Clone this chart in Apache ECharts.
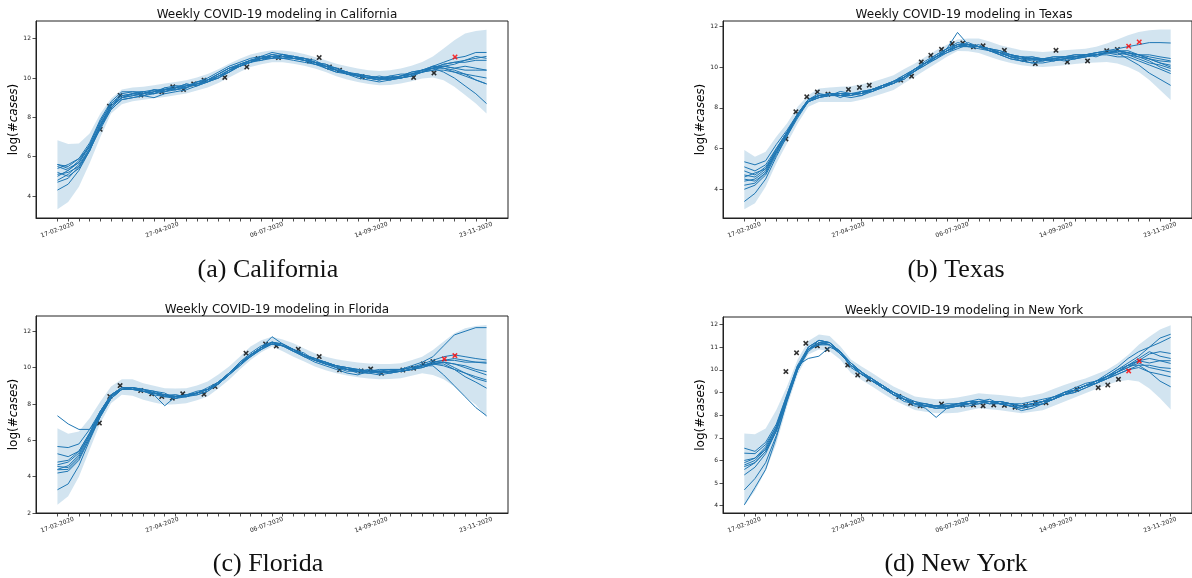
<!DOCTYPE html>
<html>
<head>
<meta charset="utf-8">
<title>Weekly COVID-19 modeling</title>
<script src="https://cdn.jsdelivr.net/npm/echarts@6/dist/echarts.min.js"></script>
<style>
  html, body { margin: 0; padding: 0; background: #fff; }
  #main { width: 1192px; height: 578px; }
</style>
</head>
<body>
<div id="main"></div>
<script>
// x values are weeks counted from 17-02-2020
var weekTicks = [0,1,2,3,4,5,6,7,8,9,10,11,12,13,14,15,16,17,18,19,20,21,22,23,24,25,26,27,28,29,30,31,32,33,34,35,36,37,38,39,40]
var tickLabels = ['17-02-2020', '27-04-2020', '06-07-2020', '14-09-2020', '23-11-2020']
var labelWeeks = [0, 9.75, 19.5, 29.25, 39]

// ---- California ----
var caLower = [3.32,3.7,4.47,5.66,7.0,8.2,8.67,8.82,8.9,8.97,9.04,9.12,9.21,9.36,9.52,9.75,10.02,10.3,10.56,10.7,10.8,10.8,10.73,10.62,10.48,10.3,10.09,9.93,9.8,9.7,9.63,9.65,9.72,9.83,9.97,10.02,9.89,9.55,9.13,8.7,8.2]
var caUpper = [6.84,6.64,6.67,7.18,8.2,8.96,9.41,9.52,9.55,9.63,9.72,9.8,9.89,10.03,10.2,10.45,10.73,10.98,11.19,11.32,11.41,11.4,11.33,11.22,11.07,10.9,10.73,10.6,10.48,10.4,10.36,10.4,10.48,10.62,10.82,11.1,11.5,11.92,12.26,12.39,12.46]
var caRuns = [
  [4.3,4.6,5.3,6.3,7.5,8.5,9.0,9.1,9.2,9.4,9.3,9.5,9.6,9.7,9.9,10.2,10.5,10.7,10.9,11.0,11.2,11.1,11.0,10.9,10.7,10.6,10.4,10.3,10.1,10.0,9.9,10.0,10.1,10.2,10.4,10.5,10.3,10.0,9.6,9.2,8.7],
  [4.7,4.9,5.5,6.4,7.7,8.6,9.1,9.2,9.1,9.3,9.4,9.4,9.5,9.8,9.9,10.0,10.3,10.6,10.8,11.1,11.0,11.2,11.1,10.9,10.8,10.5,10.4,10.2,10.2,10.0,9.9,10.1,10.0,10.2,10.3,10.6,10.5,10.4,10.2,9.9,9.7],
  [5.0,5.3,5.8,6.6,7.8,8.7,9.2,9.3,9.3,9.2,9.5,9.6,9.6,9.8,10.0,10.3,10.6,10.8,11.0,11.1,11.3,11.2,11.0,11.0,10.9,10.6,10.5,10.3,10.1,10.1,10.0,9.9,10.1,10.3,10.4,10.6,10.8,11.0,11.1,11.3,11.3],
  [5.5,5.3,5.7,6.5,7.6,8.5,9.0,9.2,9.3,9.4,9.3,9.5,9.7,9.6,9.8,10.1,10.4,10.7,10.9,10.9,11.1,11.0,11.1,11.0,10.8,10.7,10.4,10.2,10.1,10.0,10.1,10.0,10.0,10.1,10.3,10.4,10.6,10.5,10.6,10.5,10.4],
  [5.6,5.5,5.9,6.7,7.9,8.8,9.3,9.3,9.2,9.3,9.5,9.4,9.6,9.7,9.9,10.2,10.5,10.6,10.9,11.0,11.2,11.1,11.1,11.0,10.8,10.6,10.5,10.2,10.2,10.1,10.0,10.1,10.2,10.2,10.3,10.5,10.6,10.7,10.9,11.1,11.0],
  [5.2,5.0,5.4,6.3,7.5,8.4,8.9,9.0,9.1,9.2,9.3,9.4,9.5,9.7,9.8,10.0,10.4,10.6,10.8,11.0,11.0,11.2,11.0,10.9,10.7,10.6,10.4,10.3,10.1,10.0,10.0,9.9,10.0,10.1,10.4,10.5,10.5,10.3,10.2,10.1,10.0],
  [5.4,5.6,5.9,6.5,7.6,8.6,9.0,9.2,9.3,9.2,9.4,9.6,9.5,9.7,9.8,10.1,10.3,10.7,10.9,11.1,11.1,11.0,11.0,10.9,10.8,10.5,10.3,10.3,10.1,10.0,10.0,10.0,10.1,10.2,10.3,10.5,10.7,10.8,10.8,10.9,10.9],
  [4.8,5.1,5.6,6.4,7.4,8.4,8.9,9.0,9.1,9.0,9.2,9.3,9.4,9.6,9.8,10.0,10.3,10.6,10.8,10.9,11.0,11.0,10.9,10.8,10.7,10.5,10.3,10.2,10.0,9.9,9.8,9.9,10.0,10.1,10.3,10.4,10.4,10.3,10.1,9.9,9.7],
  [5.6,5.4,5.7,6.6,7.8,8.7,9.1,9.2,9.2,9.4,9.4,9.5,9.7,9.6,9.9,10.2,10.5,10.7,10.8,11.0,11.1,11.0,11.1,11.0,10.8,10.7,10.5,10.3,10.2,10.1,10.0,10.0,10.1,10.3,10.4,10.6,10.6,10.5,10.4,10.4,10.4],
  [5.1,5.2,5.5,6.3,7.6,8.6,9.0,9.1,9.2,9.3,9.4,9.5,9.5,9.8,9.9,10.1,10.4,10.6,10.8,11.0,11.1,11.2,11.1,10.9,10.8,10.6,10.4,10.2,10.1,10.0,9.9,10.0,10.0,10.2,10.4,10.5,10.7,10.8,10.9,11.0,11.1]
]
var caObs = [[3.98,7.39],[4.85,8.57],[5.84,9.11],[7.77,9.13],[9.73,9.3],[10.75,9.55],[11.75,9.42],[12.7,9.7],[13.67,9.89],[15.6,10.03],[17.65,10.56],[18.7,10.99],[20.6,11.04],[23.5,10.87],[24.4,11.04],[25.35,10.56],[26.3,10.4],[28.4,10.06],[33.2,10.03],[35.1,10.26]]
var caTest = [[37.06,11.07]]

// ---- Texas ----
var txLower = [3.02,3.31,4.13,5.27,6.25,7.23,8.05,8.29,8.29,8.29,8.29,8.4,8.54,8.7,8.87,9.2,9.52,9.85,10.17,10.5,10.79,10.78,10.69,10.5,10.33,10.2,10.09,10.03,10.0,10.04,10.09,10.15,10.2,10.22,10.25,10.17,10.0,9.76,9.36,8.87,8.38]
var txUpper = [5.93,5.6,5.84,6.58,7.23,8.05,8.62,8.95,9.0,9.03,9.06,9.15,9.27,9.42,9.6,9.9,10.17,10.5,10.82,11.1,11.35,11.4,11.4,11.25,11.07,10.95,10.82,10.78,10.74,10.77,10.82,10.86,10.9,11.0,11.15,11.35,11.56,11.72,11.8,11.84,11.84]
var txRuns = [
  [5.35,5.2,5.4,6.2,6.9,7.7,8.4,8.7,8.6,8.8,8.7,8.8,8.9,9.1,9.3,9.6,9.9,10.3,10.6,10.9,11.2,11.1,11.0,10.9,10.7,10.5,10.4,10.5,10.4,10.5,10.5,10.6,10.6,10.7,10.8,10.9,11.0,11.1,11.2,11.2,11.18],
  [5.1,4.9,5.2,6.0,6.8,7.7,8.3,8.6,8.7,8.5,8.7,8.7,8.9,9.0,9.3,9.5,9.8,10.2,10.5,10.8,11.0,11.2,11.0,10.9,10.8,10.6,10.5,10.4,10.3,10.4,10.5,10.4,10.6,10.6,10.7,10.8,10.7,10.6,10.6,10.5,10.42],
  [4.9,4.7,5.1,5.9,6.8,7.6,8.4,8.6,8.6,8.7,8.6,8.8,8.8,9.1,9.2,9.5,9.9,10.2,10.4,10.8,11.1,11.0,11.1,10.8,10.7,10.5,10.4,10.3,10.4,10.3,10.4,10.5,10.5,10.6,10.7,10.6,10.7,10.6,10.4,10.3,10.25],
  [4.6,4.8,5.0,5.8,6.7,7.6,8.3,8.5,8.7,8.6,8.5,8.6,8.9,9.0,9.2,9.5,9.8,10.1,10.5,10.7,11.0,11.1,11.0,10.9,10.6,10.6,10.4,10.4,10.3,10.4,10.4,10.5,10.5,10.6,10.7,10.7,10.6,10.5,10.4,10.2,10.09],
  [4.5,4.4,4.8,5.8,6.7,7.7,8.4,8.6,8.6,8.7,8.7,8.6,8.8,9.0,9.3,9.4,9.8,10.2,10.5,10.8,11.0,11.1,11.0,10.8,10.7,10.5,10.3,10.4,10.4,10.3,10.4,10.5,10.6,10.5,10.7,10.8,10.6,10.4,10.2,10.1,9.93],
  [4.4,4.5,4.9,5.9,6.8,7.6,8.3,8.5,8.6,8.6,8.7,8.7,8.9,9.1,9.2,9.5,9.9,10.2,10.5,10.8,11.0,11.0,10.9,10.8,10.6,10.4,10.3,10.2,10.3,10.4,10.3,10.4,10.5,10.6,10.6,10.5,10.5,10.3,10.1,9.9,9.68],
  [4.2,4.3,4.8,5.8,6.7,7.6,8.3,8.5,8.6,8.6,8.6,8.7,8.9,9.0,9.2,9.5,9.8,10.1,10.4,10.7,10.9,11.1,11.0,10.8,10.6,10.4,10.3,10.2,10.2,10.3,10.4,10.4,10.5,10.6,10.7,10.7,10.4,10.1,9.7,9.4,9.1],
  [4.0,4.2,4.7,5.7,6.6,7.6,8.4,8.6,8.7,8.7,8.6,8.8,8.9,9.1,9.3,9.6,9.9,10.2,10.6,10.9,11.1,11.1,11.0,10.9,10.7,10.6,10.5,10.4,10.4,10.5,10.5,10.6,10.6,10.7,10.8,10.8,10.7,10.6,10.5,10.4,10.3],
  [3.4,3.8,4.5,5.6,6.6,7.5,8.3,8.6,8.7,8.6,8.7,8.7,8.8,9.0,9.2,9.4,9.8,10.2,10.5,10.8,11.1,11.0,11.0,10.9,10.7,10.5,10.5,10.4,10.4,10.4,10.5,10.5,10.6,10.7,10.7,10.8,10.8,10.6,10.4,10.2,10.0],
  [4.7,4.6,5.0,6.0,6.8,7.7,8.4,8.6,8.6,8.7,8.7,8.7,8.9,9.1,9.3,9.5,9.9,10.2,10.5,10.9,11.7,11.1,11.0,10.9,10.8,10.6,10.5,10.5,10.4,10.4,10.5,10.5,10.6,10.6,10.7,10.8,10.7,10.5,10.3,10.0,9.8]
]
var txObs = [[3.9,6.47],[4.84,7.8],[5.86,8.54],[6.85,8.78],[7.85,8.67],[9.77,8.9],[10.8,9.0],[11.72,9.11],[14.67,9.36],[15.69,9.55],[16.6,10.25],[17.5,10.58],[18.5,10.87],[19.5,11.15],[20.5,11.18],[21.5,10.99],[22.4,11.04],[24.4,10.82],[26.3,10.37],[27.3,10.17],[29.24,10.82],[30.3,10.25],[32.2,10.3],[34.0,10.8],[35.0,10.86]]
var txTest = [[36.06,11.02],[37.05,11.23]]

// ---- Florida ----
var flLower = [2.46,2.92,4.0,5.48,6.95,8.04,8.5,8.45,8.23,8.08,7.95,7.98,8.04,8.2,8.41,8.85,9.33,9.9,10.42,10.85,11.16,10.9,10.6,10.33,10.06,9.86,9.69,9.57,9.47,9.4,9.36,9.38,9.42,9.55,9.69,9.6,9.36,8.96,8.41,7.95,7.27]
var flUpper = [6.67,6.36,6.49,7.22,8.14,8.96,9.36,9.36,9.14,9.0,8.87,8.85,8.87,9.02,9.23,9.62,10.06,10.6,11.16,11.5,11.7,11.55,11.34,11.05,10.79,10.6,10.46,10.36,10.28,10.22,10.2,10.2,10.24,10.4,10.6,10.97,11.43,11.89,12.16,12.29,12.35]
var flRuns = [
  [7.35,6.9,6.6,6.6,7.4,8.4,8.8,8.9,8.8,8.7,8.5,8.5,8.4,8.6,8.9,9.2,9.7,10.3,10.8,11.2,11.4,11.3,11.0,10.7,10.5,10.3,10.1,10.0,9.9,9.8,9.9,9.9,9.9,10.1,10.3,10.6,11.2,11.8,12.0,12.2,12.2],
  [5.66,5.6,5.8,6.6,7.6,8.5,8.9,8.9,8.8,8.7,8.6,8.3,8.5,8.7,8.8,9.2,9.7,10.3,10.7,11.1,11.4,11.2,11.0,10.6,10.5,10.2,10.1,10.0,9.8,9.9,9.8,9.9,9.9,10.0,10.2,10.4,10.6,10.7,10.6,10.5,10.42],
  [5.26,5.1,5.4,6.4,7.6,8.5,8.8,8.9,8.7,8.6,8.4,8.5,8.4,8.6,8.8,9.1,9.6,10.2,10.6,11.1,11.7,11.3,11.0,10.8,10.4,10.3,10.1,9.9,9.9,9.8,9.7,9.8,9.9,10.0,10.1,10.3,10.4,10.4,10.3,10.3,10.24],
  [4.65,4.8,5.3,6.3,7.5,8.4,8.8,8.8,8.8,8.6,8.5,8.4,8.5,8.5,8.7,9.1,9.6,10.1,10.7,11.0,11.3,11.2,10.9,10.7,10.5,10.2,10.0,9.9,9.8,9.7,9.8,9.7,9.8,9.9,10.0,10.2,10.3,10.2,10.1,9.9,9.78],
  [4.56,4.5,5.1,6.2,7.4,8.4,8.9,8.8,8.7,8.5,8.4,8.3,8.5,8.6,8.8,9.2,9.7,10.2,10.7,11.1,11.4,11.3,11.0,10.7,10.4,10.2,10.1,9.9,9.8,9.8,9.7,9.8,9.8,9.9,10.1,10.2,10.1,9.9,9.7,9.5,9.32],
  [4.38,4.4,5.0,6.1,7.4,8.3,8.8,8.9,8.7,8.6,8.5,8.4,8.4,8.6,8.8,9.1,9.7,10.2,10.7,11.1,11.3,11.2,11.0,10.7,10.4,10.3,10.0,9.9,9.7,9.7,9.8,9.7,9.8,9.9,10.1,10.2,10.3,10.0,9.7,9.4,9.23],
  [4.2,4.3,4.9,6.1,7.3,8.3,8.8,8.8,8.7,8.6,8.5,8.3,8.4,8.5,8.7,9.1,9.6,10.1,10.6,11.0,11.3,11.2,10.9,10.6,10.4,10.2,10.0,9.8,9.8,9.7,9.6,9.7,9.8,9.9,10.0,10.2,10.2,9.9,9.5,9.2,8.87],
  [3.28,3.6,4.6,6.0,7.3,8.3,8.8,8.8,8.8,8.6,8.4,8.4,8.5,8.6,8.8,9.2,9.6,10.2,10.7,11.1,11.4,11.2,10.9,10.7,10.4,10.2,10.1,9.9,9.8,9.8,9.8,9.8,9.9,10.0,10.1,10.1,9.6,9.0,8.4,7.8,7.35],
  [4.8,4.9,5.4,6.4,7.6,8.5,8.9,8.9,8.8,8.6,8.5,8.4,8.4,8.6,8.8,9.1,9.6,10.2,10.7,11.1,11.3,11.2,11.0,10.7,10.5,10.3,10.1,10.0,9.9,9.8,9.8,9.8,9.8,9.9,10.1,10.3,10.4,10.5,10.4,10.3,10.3],
  [4.4,4.6,5.2,6.3,7.5,8.5,8.9,8.8,8.7,8.5,7.9,8.4,8.5,8.6,8.8,9.2,9.7,10.2,10.6,11.0,11.4,11.2,10.9,10.6,10.3,10.1,9.9,9.7,9.6,9.8,9.7,9.8,9.8,9.9,10.1,10.3,10.3,10.2,10.0,9.8,9.6]
]
var flObs = [[3.91,6.95],[4.88,8.41],[5.84,9.01],[7.76,8.74],[8.79,8.56],[9.72,8.41],[10.71,8.32],[11.68,8.56],[13.66,8.54],[14.69,8.96],[17.58,10.79],[19.4,11.3],[20.4,11.19],[22.45,11.01],[24.4,10.61],[26.3,9.88],[28.3,9.82],[29.2,9.93],[30.2,9.69],[32.2,9.87],[33.2,9.97],[34.1,10.2],[35.0,10.33]]
var flTest = [[36.06,10.48],[37.05,10.66]]

// ---- New York ----
var nyLower = [4.0,4.66,5.55,6.74,8.37,9.78,10.67,10.9,10.82,10.45,9.86,9.55,9.26,8.95,8.67,8.45,8.23,8.15,8.08,8.08,8.1,8.2,8.3,8.26,8.22,8.15,8.08,8.15,8.22,8.4,8.59,8.78,8.96,9.15,9.33,9.48,9.55,9.48,9.18,8.74,8.25]
var nyUpper = [7.19,7.16,7.41,8.23,9.26,10.45,11.27,11.56,11.49,11.04,10.45,10.15,9.86,9.55,9.26,9.04,8.82,8.76,8.7,8.72,8.78,8.87,8.96,8.92,8.89,8.83,8.78,8.87,8.96,9.15,9.33,9.48,9.62,9.8,9.99,10.28,10.65,11.1,11.46,11.78,11.97]
var nyRuns = [
  [6.54,6.4,6.8,7.6,8.9,10.2,11.0,11.3,11.2,10.8,10.3,9.9,9.6,9.3,9.0,8.7,8.6,8.5,8.4,8.5,8.5,8.6,8.7,8.6,8.6,8.5,8.5,8.6,8.7,8.8,9.0,9.2,9.4,9.5,9.8,10.1,10.5,10.8,11.0,11.4,11.57],
  [6.32,6.3,6.7,7.5,8.8,10.1,10.9,11.2,11.1,10.7,10.2,9.8,9.5,9.2,9.0,8.7,8.5,8.4,8.4,8.3,8.5,8.5,8.6,8.6,8.5,8.4,8.4,8.5,8.6,8.7,9.0,9.1,9.3,9.5,9.7,10.0,10.3,10.6,11.0,11.2,11.43],
  [5.8,6.0,6.5,7.4,8.8,10.1,10.9,11.3,11.2,10.7,10.2,9.8,9.6,9.2,8.9,8.7,8.5,8.4,8.3,8.4,8.4,8.6,8.6,8.7,8.5,8.5,8.4,8.5,8.6,8.8,8.9,9.1,9.3,9.4,9.7,9.9,10.2,10.4,10.7,10.8,10.72],
  [5.73,5.9,6.4,7.3,8.7,10.0,10.9,11.1,11.2,10.8,10.2,9.9,9.5,9.3,8.9,8.7,8.5,8.5,8.4,8.4,8.5,8.5,8.6,8.5,8.6,8.5,8.4,8.4,8.6,8.7,8.9,9.1,9.3,9.5,9.6,9.9,10.1,10.4,10.3,10.4,10.28],
  [5.36,5.7,6.3,7.3,8.7,10.1,10.9,11.2,11.1,10.7,10.2,9.8,9.5,9.2,9.0,8.7,8.4,8.4,8.3,8.3,8.4,8.5,8.5,8.6,8.5,8.4,8.3,8.4,8.5,8.7,8.9,9.0,9.2,9.4,9.6,9.8,10.0,10.2,10.2,10.1,10.06],
  [4.7,5.2,5.9,7.1,8.6,10.0,10.8,11.2,11.1,10.8,10.1,9.8,9.5,9.2,8.9,8.6,8.5,8.3,7.9,8.3,8.4,8.4,8.5,8.6,8.5,8.4,8.2,8.3,8.5,8.7,8.9,9.1,9.3,9.4,9.6,9.8,10.0,10.1,9.9,9.8,9.69],
  [4.04,4.8,5.6,7.0,8.6,10.0,10.9,11.2,11.2,10.8,10.3,9.9,9.6,9.2,8.9,8.7,8.5,8.4,8.4,8.3,8.4,8.5,8.6,8.6,8.5,8.5,8.4,8.5,8.6,8.8,8.9,9.1,9.3,9.5,9.7,10.0,10.2,10.2,9.9,9.5,9.25],
  [6.0,6.1,6.6,7.5,8.9,10.2,10.5,10.6,11.0,10.8,10.3,9.9,9.5,9.3,9.0,8.8,8.6,8.4,8.3,8.4,8.4,8.5,8.6,8.5,8.5,8.4,8.3,8.4,8.5,8.7,8.9,9.0,9.2,9.4,9.6,9.9,10.2,10.5,10.8,10.6,10.5],
  [5.9,6.1,6.5,7.4,8.8,10.1,11.0,11.3,11.2,10.8,10.2,9.8,9.6,9.3,9.0,8.8,8.5,8.5,8.4,8.4,8.5,8.6,8.6,8.6,8.6,8.5,8.4,8.5,8.6,8.7,9.0,9.1,9.3,9.4,9.7,9.9,10.1,10.3,10.1,10.0,9.9],
  [5.6,5.9,6.4,7.3,8.7,10.0,10.9,11.1,11.1,10.7,10.2,9.9,9.6,9.3,9.0,8.7,8.5,8.4,8.4,8.4,8.5,8.5,8.6,8.6,8.6,8.5,8.4,8.5,8.6,8.8,9.0,9.1,9.3,9.5,9.7,9.9,10.2,10.4,10.5,10.4,10.4]
]
var nyObs = [[3.9,9.92],[4.9,10.75],[5.77,11.17],[6.85,11.06],[7.78,10.9],[9.7,10.21],[10.64,9.77],[11.66,9.58],[14.5,8.82],[15.6,8.52],[16.5,8.41],[18.5,8.49],[20.5,8.45],[21.5,8.45],[22.4,8.41],[23.4,8.45],[24.4,8.43],[25.4,8.35],[26.4,8.41],[27.3,8.55],[28.3,8.55],[31.2,9.14],[33.2,9.21],[34.1,9.33],[35.1,9.58]]
var nyTest = [[36.06,9.95],[37.05,10.39]]

var panels = [
  { state: 'California', caption: '(a) California', lower: caLower, upper: caUpper, runs: caRuns, obs: caObs, test: caTest,
    box: { left: 36, top: 21, width: 472, height: 197 }, yMin: 2.88, yMax: 12.9, yTicks: [4, 6, 8, 10, 12], capTop: 252 },
  { state: 'Texas', caption: '(b) Texas', lower: txLower, upper: txUpper, runs: txRuns, obs: txObs, test: txTest,
    box: { left: 723, top: 21, width: 472, height: 197 }, yMin: 2.59, yMax: 12.26, yTicks: [4, 6, 8, 10, 12], capTop: 252 },
  { state: 'Florida', caption: '(c) Florida', lower: flLower, upper: flUpper, runs: flRuns, obs: flObs, test: flTest,
    box: { left: 36, top: 316, width: 472, height: 197 }, yMin: 2.0, yMax: 12.84, yTicks: [2, 4, 6, 8, 10, 12], capTop: 546 },
  { state: 'New York', caption: '(d) New York', lower: nyLower, upper: nyUpper, runs: nyRuns, obs: nyObs, test: nyTest,
    box: { left: 723, top: 317, width: 472, height: 196 }, yMin: 3.68, yMax: 12.33, yTicks: [4, 5, 6, 7, 8, 9, 10, 11, 12], capTop: 546 }
]

// matplotlib style 'x' marker
var crossPath = 'path://M0,2L2,0L5,3L8,0L10,2L7,5L10,8L8,10L5,7L2,10L0,8L3,5Z'

var chart = echarts.init(document.getElementById('main'))

var titles = []
var grids = []
var xAxes = []
var yAxes = []
var series = []

panels.forEach(function (p, i) {
  var cx = i % 2 === 1 ? 959 : 272
  titles.push({
    text: 'Weekly COVID-19 modeling in ' + p.state,
    left: cx, top: p.box.top - 17, textAlign: 'center',
    textStyle: { fontFamily: 'DejaVu Sans', fontSize: 12, fontWeight: 'normal', color: '#111' }
  })
  titles.push({
    text: p.caption,
    left: i % 2 === 1 ? 951 : 263, top: p.capTop, textAlign: 'center',
    textStyle: { fontFamily: 'Liberation Serif', fontSize: 26, fontWeight: 'normal', color: '#111' }
  })
  grids.push({
    left: p.box.left, top: p.box.top, width: p.box.width, height: p.box.height,
    show: true, borderColor: '#222', borderWidth: 1, backgroundColor: 'transparent'
  })
  xAxes.push({
    gridIndex: i, type: 'value', min: -2, max: 42,
    splitLine: { show: false },
    axisLine: { show: true, onZero: false, lineStyle: { color: '#222', width: 1 } },
    axisTick: { customValues: weekTicks, length: 3.5, lineStyle: { color: '#222', width: 0.8 } },
    axisLabel: {
      customValues: labelWeeks, rotate: 20, fontSize: 6, color: '#222', margin: 12,
      fontFamily: 'DejaVu Sans', align: 'center', verticalAlign: 'middle',
      formatter: function (v) {
        var k = 0
        labelWeeks.forEach(function (w, j) { if (Math.abs(w - v) < Math.abs(labelWeeks[k] - v)) k = j })
        return tickLabels[k]
      }
    }
  })
  yAxes.push({
    gridIndex: i, type: 'value', min: p.yMin, max: p.yMax,
    splitLine: { show: false },
    axisLine: { show: true, onZero: false, lineStyle: { color: '#222', width: 1 } },
    axisTick: { customValues: p.yTicks, length: 3.5, lineStyle: { color: '#222', width: 0.8 } },
    axisLabel: { customValues: p.yTicks, fontSize: 6, color: '#222', margin: 5, fontFamily: 'DejaVu Sans' },
    name: 'log(#{it|cases})', nameLocation: 'middle', nameGap: 15, nameRotate: 90,
    nameTextStyle: {
      fontFamily: 'DejaVu Sans', fontSize: 12, color: '#000',
      rich: { it: { fontFamily: 'DejaVu Sans', fontSize: 12, fontStyle: 'italic', color: '#000' } }
    }
  })

  // uncertainty band drawn as one polygon through the axis scales
  series.push({
    type: 'custom', xAxisIndex: i, yAxisIndex: i, z: 1, silent: true,
    encode: { x: 0, y: [1, 2] },
    data: weekTicks.map(function (w, k) { return [w, p.lower[k], p.upper[k]] }),
    renderItem: function (params, api) {
      if (params.dataIndex !== 0) return null
      var top = [], bottom = []
      weekTicks.forEach(function (w, k) {
        top.push(api.coord([w, p.upper[k]]))
        bottom.unshift(api.coord([w, p.lower[k]]))
      })
      return {
        type: 'polygon',
        shape: { points: top.concat(bottom) },
        style: { fill: 'rgba(31,119,180,0.2)' }
      }
    }
  })
  // observed weeks (drawn under the sampled runs)
  series.push({
    type: 'scatter', xAxisIndex: i, yAxisIndex: i, symbol: crossPath, symbolSize: 5.5, z: 2,
    itemStyle: { color: '#000' }, data: p.obs
  })
  p.runs.forEach(function (run) {
    series.push({
      type: 'line', xAxisIndex: i, yAxisIndex: i, symbol: 'none', z: 3, silent: true,
      lineStyle: { color: '#1f77b4', width: 1 },
      data: run.map(function (v, k) { return [weekTicks[k], v] })
    })
  })
  series.push({
    type: 'scatter', xAxisIndex: i, yAxisIndex: i, symbol: crossPath, symbolSize: 5.5, z: 4,
    itemStyle: { color: '#ff0000' }, data: p.test
  })
})

var option = {
  animation: false,
  backgroundColor: '#fff',
  title: titles,
  grid: grids,
  xAxis: xAxes,
  yAxis: yAxes,
  series: series
}
chart.setOption(option)
</script>
</body>
</html>
